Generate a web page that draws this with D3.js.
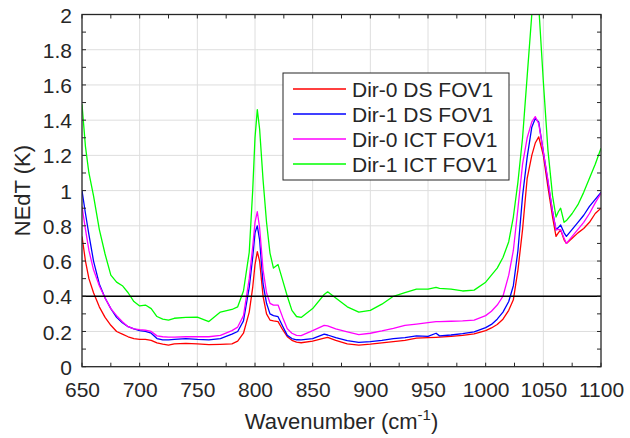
<!DOCTYPE html>
<html>
<head>
<meta charset="utf-8">
<script src="https://d3js.org/d3.v7.min.js"></script>
<style>
    body { margin: 0; background: #fff; }
    svg text { font-family: "Liberation Sans", Arial, sans-serif; fill: #262626; }
</style>
</head>
<body>
<div id="chart"></div>
<script>

// Wavenumber grid (cm-1).
var wavenumber = [650,653,656,660,665,670,675,680,685,690,695,700,705,710,715,720,725,730,740,750,
    760,770,780,785,790,795,798,800,802,804,807,810,813,816,820,824,828,832,836,840,
    850,860,863,870,880,890,900,910,920,930,940,950,957,960,970,980,990,1000,1005,1010,
    1015,1020,1024,1028,1032,1036,1040,1043,1046,1050,1054,1058,1061,1063,1065,1068,1070,1075,1080,1085,
    1090,1095,1100];

var dir0_ds = [0.74,0.60,0.50,0.42,0.34,0.28,0.235,0.20,0.185,0.17,0.16,0.155,0.155,0.15,0.135,0.128,0.123,0.13,0.133,0.13,
    0.125,0.127,0.13,0.145,0.19,0.31,0.45,0.58,0.653,0.60,0.40,0.30,0.265,0.26,0.256,0.21,0.17,0.15,0.14,0.136,
    0.145,0.162,0.167,0.15,0.13,0.123,0.128,0.135,0.142,0.15,0.162,0.165,0.167,0.168,0.172,0.178,0.186,0.205,0.22,0.24,
    0.27,0.32,0.38,0.55,0.78,1.07,1.2,1.27,1.305,1.2,1.02,0.85,0.74,0.76,0.777,0.72,0.70,0.73,0.76,0.785,
    0.82,0.87,0.90];

var dir1_ds = [1.0,0.87,0.75,0.60,0.47,0.39,0.33,0.28,0.25,0.227,0.215,0.205,0.2,0.19,0.16,0.152,0.152,0.155,0.16,0.155,
    0.152,0.16,0.185,0.2,0.26,0.45,0.62,0.76,0.80,0.72,0.47,0.36,0.30,0.29,0.284,0.23,0.178,0.16,0.153,0.152,
    0.16,0.185,0.18,0.165,0.148,0.138,0.142,0.15,0.16,0.165,0.175,0.172,0.19,0.175,0.18,0.188,0.198,0.222,0.24,0.27,
    0.31,0.37,0.46,0.66,0.97,1.19,1.36,1.41,1.39,1.22,1.05,0.88,0.777,0.79,0.805,0.76,0.74,0.78,0.82,0.86,
    0.91,0.95,0.99];

var dir0_ict = [0.91,0.78,0.66,0.55,0.46,0.39,0.33,0.29,0.255,0.227,0.215,0.21,0.207,0.2,0.175,0.17,0.168,0.168,0.17,0.17,
    0.17,0.178,0.205,0.225,0.29,0.50,0.68,0.82,0.88,0.79,0.55,0.42,0.36,0.35,0.35,0.28,0.215,0.19,0.178,0.177,
    0.205,0.235,0.232,0.215,0.198,0.182,0.19,0.203,0.218,0.235,0.242,0.25,0.256,0.256,0.258,0.26,0.265,0.29,0.315,0.35,
    0.40,0.52,0.66,0.9,1.15,1.3,1.39,1.42,1.38,1.22,1.06,0.88,0.777,0.78,0.777,0.73,0.70,0.74,0.78,0.82,
    0.87,0.93,0.985];

var dir1_ict = [1.49,1.25,1.10,0.97,0.78,0.64,0.52,0.48,0.46,0.42,0.37,0.345,0.35,0.33,0.285,0.27,0.265,0.275,0.28,0.282,
    0.256,0.31,0.325,0.34,0.43,0.65,1.0,1.3,1.46,1.35,1.06,0.82,0.645,0.56,0.58,0.49,0.40,0.32,0.285,0.28,
    0.33,0.41,0.425,0.39,0.34,0.31,0.32,0.355,0.40,0.42,0.44,0.44,0.45,0.445,0.44,0.43,0.435,0.48,0.52,0.56,
    0.62,0.71,0.85,1.05,1.30,1.65,2.0,2.1,2.05,1.62,1.23,0.97,0.85,0.88,0.90,0.82,0.83,0.87,0.92,0.99,
    1.07,1.15,1.24];

var series_names = ["Dir-0 DS FOV1", "Dir-1 DS FOV1", "Dir-0 ICT FOV1", "Dir-1 ICT FOV1"];
var series_colors = ["#ff0000", "#0000ff", "#ff00ff", "#00ff00"];
var series_values = [dir0_ds, dir1_ds, dir0_ict, dir1_ict];

var x_ticks = [650, 700, 750, 800, 850, 900, 950, 1000, 1050, 1100];
var y_ticks = [0, 0.2, 0.4, 0.6, 0.8, 1, 1.2, 1.4, 1.6, 1.8, 2];
var threshold = 0.4;

chart = {
    width: 630,
    height: 438,
    margin: {left: 82, top: 14.5, right: 29, bottom: 71.3},
    tick_len: 4,
};

function draw_chart() {
    let m = chart.margin;
    let w = chart.width - m.left - m.right;
    let h = chart.height - m.top - m.bottom;

    let svg = d3.select("#chart").append("svg")
        .attr("width", chart.width)
        .attr("height", chart.height);

    let x = d3.scaleLinear().domain([650, 1100]).range([0, w]);
    let y = d3.scaleLinear().domain([0, 2]).range([h, 0]);

    svg.append("defs").append("clipPath")
        .attr("id", "plot-clip")
        .append("rect")
            .attr("width", w)
            .attr("height", h);

    let g = svg.append("g")
        .attr("transform", "translate(" + m.left + "," + m.top + ")");

    // Grid lines at the major ticks.
    let grid = g.append("g").attr("class", "grid");
    grid.selectAll("line.gx")
        .data(x_ticks.slice(1, -1))
        .enter().append("line")
            .attr("x1", (d) => x(d)).attr("x2", (d) => x(d))
            .attr("y1", 0).attr("y2", h)
            .attr("stroke", "#dedede").attr("stroke-width", 1);
    grid.selectAll("line.gy")
        .data(y_ticks.slice(1, -1))
        .enter().append("line")
            .attr("y1", (d) => y(d)).attr("y2", (d) => y(d))
            .attr("x1", 0).attr("x2", w)
            .attr("stroke", "#dedede").attr("stroke-width", 1);

    // Curves
    let line = d3.line()
        .x((d, i) => x(wavenumber[i]))
        .y((d) => y(d));

    let curves = g.append("g").attr("clip-path", "url(#plot-clip)");
    curves.selectAll("path")
        .data(series_values)
        .enter().append("path")
            .attr("d", line)
            .attr("fill", "none")
            .attr("stroke", (d, i) => series_colors[i])
            .attr("stroke-width", 1.3)
            .attr("stroke-linejoin", "round");

    // 0.4 K reference line
    g.append("line")
        .attr("x1", x(650)).attr("x2", x(1100))
        .attr("y1", y(threshold)).attr("y2", y(threshold))
        .attr("stroke", "#000").attr("stroke-width", 1.3);

    // Axes, ticks pointing inwards on all four sides.
    let x_minor = d3.range(650, 1101, 25);
    let y_minor = d3.range(0, 21, 1).map((d) => d / 10);

    let bottom = d3.axisBottom(x).tickValues(x_ticks).tickSize(0).tickPadding(15).tickFormat(d3.format("d"));
    let left = d3.axisLeft(y).tickValues(y_ticks).tickSize(0).tickPadding(10).tickFormat((d) => d3.format("")(+d.toFixed(1)));

    let gx = g.append("g").attr("transform", "translate(0," + h + ")").call(bottom);
    let gy = g.append("g").call(left);
    [gx, gy].forEach(function(a) {
        a.select(".domain").remove();
        a.selectAll("text").style("font-size", "21px").attr("fill", "#262626");
    });
    gy.selectAll("text").attr("dy", "0.36em");

    let ticks = g.append("g").attr("stroke", "#262626").attr("stroke-width", 1);
    ticks.selectAll("line.xb").data(x_minor).enter().append("line")
        .attr("x1", (d) => x(d)).attr("x2", (d) => x(d))
        .attr("y1", h).attr("y2", h - chart.tick_len);
    ticks.selectAll("line.xt").data(x_minor).enter().append("line")
        .attr("x1", (d) => x(d)).attr("x2", (d) => x(d))
        .attr("y1", 0).attr("y2", chart.tick_len);
    ticks.selectAll("line.yl").data(y_minor).enter().append("line")
        .attr("y1", (d) => y(d)).attr("y2", (d) => y(d))
        .attr("x1", 0).attr("x2", chart.tick_len);
    ticks.selectAll("line.yr").data(y_minor).enter().append("line")
        .attr("y1", (d) => y(d)).attr("y2", (d) => y(d))
        .attr("x1", w).attr("x2", w - chart.tick_len);

    g.append("rect")
        .attr("width", w).attr("height", h)
        .attr("fill", "none")
        .attr("stroke", "#262626")
        .attr("stroke-width", 1.3);

    // Axis labels
    let xl = svg.append("text")
        .attr("x", m.left + w / 2)
        .attr("y", 429)
        .attr("text-anchor", "middle")
        .style("font-size", "22px");
    xl.append("tspan").text("Wavenumber (cm");
    xl.append("tspan").text("-1").attr("dy", "-9").style("font-size", "15px");
    xl.append("tspan").text(")").attr("dy", "9");

    svg.append("text")
        .attr("transform", "translate(30," + (m.top + h / 2) + ") rotate(-90)")
        .attr("text-anchor", "middle")
        .style("font-size", "22px")
        .text("NEdT (K)");

    // Legend
    let legend = svg.append("g").attr("transform", "translate(283,73)");
    legend.append("rect")
        .attr("width", 226).attr("height", 107)
        .attr("fill", "#fff")
        .attr("stroke", "#262626")
        .attr("stroke-width", 1);

    let items = legend.selectAll("g.item")
        .data(series_names)
        .enter().append("g")
            .attr("transform", (d, i) => "translate(0," + (16 + i * 25) + ")");
    items.append("line")
        .attr("x1", 10).attr("x2", 63)
        .attr("stroke", (d, i) => series_colors[i])
        .attr("stroke-width", 1.3);
    items.append("text")
        .attr("x", 69)
        .attr("dy", "0.36em")
        .style("font-size", "21px")
        .text((d) => d);
}

draw_chart();
</script>
</body>
</html>
